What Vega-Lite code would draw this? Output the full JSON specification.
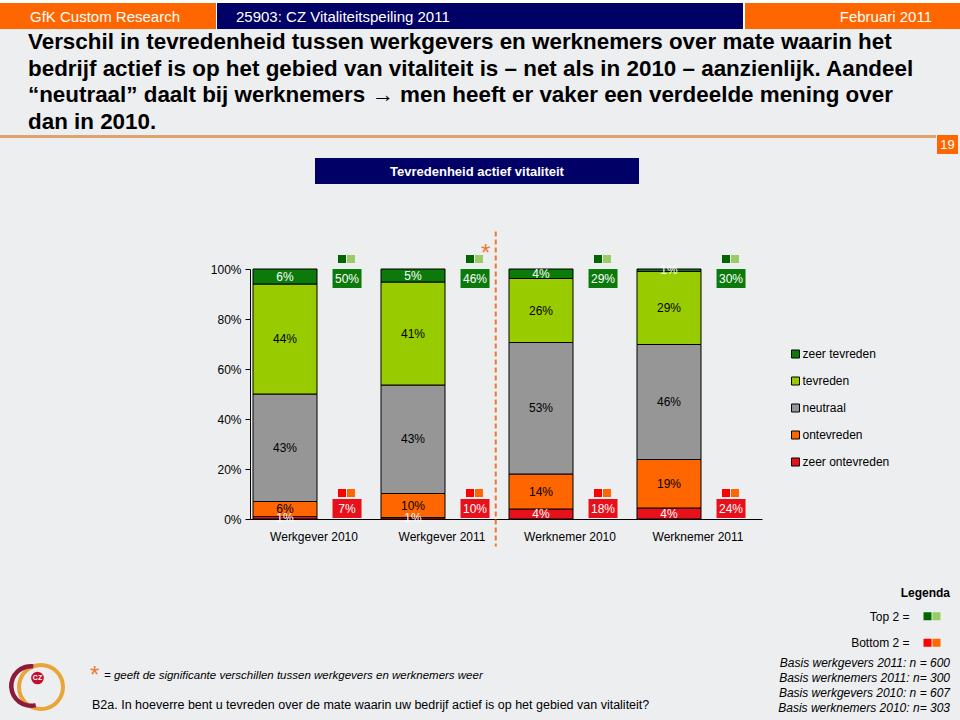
{
  "$schema": "https://vega.github.io/schema/vega-lite/v6.json",
  "background": "#ECEEF0",
  "padding": 0,
  "spacing": 0,
  "config": {
    "font": "Liberation Sans",
    "view": {"stroke": null},
    "concat": {"spacing": 0},
    "title": {"orient": "bottom", "baseline": "top", "anchor": "start", "frame": "group", "offset": 0, "fontWeight": "normal", "color": "black", "font": "Liberation Sans", "fontSize": 12}
  },
  "datasets": {
    "antwoorden": [
      {"groep": "Werkgever 2010", "categorie": "zeer ontevreden", "niveau": 1, "aandeel": 0.01},
      {"groep": "Werkgever 2010", "categorie": "ontevreden", "niveau": 2, "aandeel": 0.06},
      {"groep": "Werkgever 2010", "categorie": "neutraal", "niveau": 3, "aandeel": 0.43},
      {"groep": "Werkgever 2010", "categorie": "tevreden", "niveau": 4, "aandeel": 0.44},
      {"groep": "Werkgever 2010", "categorie": "zeer tevreden", "niveau": 5, "aandeel": 0.06},
      {"groep": "Werkgever 2011", "categorie": "zeer ontevreden", "niveau": 1, "aandeel": 0.006},
      {"groep": "Werkgever 2011", "categorie": "ontevreden", "niveau": 2, "aandeel": 0.096},
      {"groep": "Werkgever 2011", "categorie": "neutraal", "niveau": 3, "aandeel": 0.434},
      {"groep": "Werkgever 2011", "categorie": "tevreden", "niveau": 4, "aandeel": 0.412},
      {"groep": "Werkgever 2011", "categorie": "zeer tevreden", "niveau": 5, "aandeel": 0.052},
      {"groep": "Werknemer 2010", "categorie": "zeer ontevreden", "niveau": 1, "aandeel": 0.04},
      {"groep": "Werknemer 2010", "categorie": "ontevreden", "niveau": 2, "aandeel": 0.14},
      {"groep": "Werknemer 2010", "categorie": "neutraal", "niveau": 3, "aandeel": 0.526},
      {"groep": "Werknemer 2010", "categorie": "tevreden", "niveau": 4, "aandeel": 0.256},
      {"groep": "Werknemer 2010", "categorie": "zeer tevreden", "niveau": 5, "aandeel": 0.038},
      {"groep": "Werknemer 2011", "categorie": "zeer ontevreden", "niveau": 1, "aandeel": 0.044},
      {"groep": "Werknemer 2011", "categorie": "ontevreden", "niveau": 2, "aandeel": 0.194},
      {"groep": "Werknemer 2011", "categorie": "neutraal", "niveau": 3, "aandeel": 0.46},
      {"groep": "Werknemer 2011", "categorie": "tevreden", "niveau": 4, "aandeel": 0.292},
      {"groep": "Werknemer 2011", "categorie": "zeer tevreden", "niveau": 5, "aandeel": 0.01}
    ],
    "samenvatting": [
      {"groep": "Werkgever 2010", "top2": 0.50, "bottom2": 0.07},
      {"groep": "Werkgever 2011", "top2": 0.46, "bottom2": 0.10},
      {"groep": "Werknemer 2010", "top2": 0.29, "bottom2": 0.18},
      {"groep": "Werknemer 2011", "top2": 0.30, "bottom2": 0.24}
    ],
    "legenda": [
      {"groep": "Top 2 =", "categorie": "zeer tevreden", "tint": "donker"},
      {"groep": "Top 2 =", "categorie": "tevreden", "tint": "licht"},
      {"groep": "Bottom 2 =", "categorie": "zeer ontevreden", "tint": "donker"},
      {"groep": "Bottom 2 =", "categorie": "ontevreden", "tint": "licht"}
    ]
  },
  "vconcat": [
    {"width": 960, "height": 3, "view": {"fill": "white"}, "data": {"values": []}, "mark": "text"},
    {"bounds": "flush", "spacing": 0, "hconcat": [
      {"width": 216, "height": 26, "view": {"fill": "#FF6600"}, "data": {"values": []}, "mark": "text",
       "title": {"text": "GfK Custom Research", "dx": 30, "offset": -19, "color": "white", "fontSize": 15}},
      {"width": 1, "height": 26, "view": {"fill": "white"}, "data": {"values": []}, "mark": "text"},
      {"width": 526, "height": 26, "view": {"fill": "#000066"}, "data": {"values": []}, "mark": "text",
       "title": {"text": "25903: CZ Vitaliteitspeiling 2011", "dx": 19, "offset": -19, "color": "white", "fontSize": 15}},
      {"width": 2, "height": 26, "view": {"fill": "white"}, "data": {"values": []}, "mark": "text"},
      {"width": 215, "height": 26, "view": {"fill": "#FF6600"}, "data": {"values": []}, "mark": "text",
       "title": {"text": "Februari 2011", "anchor": "end", "dx": -28, "offset": -19, "color": "white", "fontSize": 15}}
    ]},
    {"width": 960, "height": 106, "data": {"values": []}, "mark": "text",
     "title": {"text": [
        "Verschil in tevredenheid tussen werkgevers en werknemers over mate waarin het",
        "bedrijf actief is op het gebied van vitaliteit is – net als in 2010 – aanzienlijk. Aandeel",
        "“neutraal” daalt bij werknemers → men heeft er vaker een verdeelde mening over",
        "dan in 2010."
      ], "dx": 28, "offset": -103.6, "fontSize": 22.4, "fontWeight": "bold", "lineHeight": 26.5, "color": "black"}},
    {"bounds": "flush", "spacing": 0, "hconcat": [
      {"width": 936, "height": 3, "view": {"fill": "#DFA46B"}, "data": {"values": []}, "mark": "text"},
      {"width": 1, "height": 19, "data": {"values": []}, "mark": "text"},
      {"width": 21, "height": 19, "view": {"fill": "#FF6600"}, "data": {"values": []}, "mark": "text",
       "title": {"text": "19", "anchor": "middle", "offset": -15.3, "color": "white", "fontSize": 13}},
      {"width": 2, "height": 19, "data": {"values": []}, "mark": "text"}
    ]},
    {"width": 960, "height": 4, "data": {"values": []}, "mark": "text"},
    {"bounds": "flush", "spacing": 0, "hconcat": [
      {"width": 315, "height": 26, "data": {"values": []}, "mark": "text"},
      {"width": 324, "height": 26, "view": {"fill": "#000066"}, "data": {"values": []}, "mark": "text",
       "title": {"text": "Tevredenheid actief vitaliteit", "anchor": "middle", "offset": -18.5, "color": "white", "fontSize": 13, "fontWeight": "bold"}},
      {"width": 321, "height": 26, "data": {"values": []}, "mark": "text"}
    ]},
    {"width": 960, "height": 45.5, "data": {"values": []}, "mark": "text"},
    {"bounds": "flush", "spacing": 0, "hconcat": [
      {"width": 250, "height": 250, "data": {"values": []}, "mark": "text"},
      {"width": 512, "height": 250,
       "layer": [
        {"data": {"name": "antwoorden"},
         "mark": {"type": "bar", "width": 64, "xOffset": -29, "stroke": "black", "strokeWidth": 1},
         "encoding": {
           "x": {"field": "groep", "type": "nominal",
                 "scale": {"domain": ["Werkgever 2010", "Werkgever 2011", "Werknemer 2010", "Werknemer 2011"], "paddingInner": 0, "paddingOuter": 0},
                 "axis": {"title": null, "labelAngle": 0, "bandPosition": 0.273, "ticks": false, "domainColor": "black", "labelPadding": 12, "labelFontSize": 12, "labelColor": "black"}},
           "y": {"field": "aandeel", "type": "quantitative", "stack": "zero",
                 "scale": {"domain": [0, 1], "nice": false},
                 "axis": {"title": null, "values": [0, 0.2, 0.4, 0.6, 0.8, 1], "format": ".0%", "grid": false, "domainColor": "black", "tickColor": "black", "tickSize": 5, "labelPadding": 4, "labelFontSize": 12, "labelColor": "black"}},
           "color": {"field": "categorie", "type": "nominal",
                     "scale": {"domain": ["zeer tevreden", "tevreden", "neutraal", "ontevreden", "zeer ontevreden"],
                               "range": ["#0B7A0B", "#99CC00", "#969696", "#FF6600", "#E8101A"]},
                     "legend": {"title": null, "orient": "none", "legendX": 789.5, "legendY": 348, "symbolType": "square", "symbolSize": 64, "symbolStrokeColor": "black", "symbolStrokeWidth": 1, "labelFontSize": 12, "labelColor": "black", "rowPadding": 15, "labelOffset": 1}},
           "order": {"field": "niveau", "type": "quantitative"}
         }},
        {"data": {"name": "antwoorden"},
         "mark": {"type": "text", "xOffset": -29, "fontSize": 12},
         "encoding": {
           "x": {"field": "groep", "type": "nominal"},
           "y": {"field": "aandeel", "type": "quantitative", "stack": "zero", "bandPosition": 0.5},
           "detail": {"field": "categorie"},
           "order": {"field": "niveau", "type": "quantitative"},
           "text": {"field": "aandeel", "type": "quantitative", "format": ".0%"},
           "color": {"condition": {"test": "datum.categorie === 'zeer tevreden' || datum.categorie === 'zeer ontevreden'", "value": "white"}, "value": "black"}
         }},
        {"data": {"name": "samenvatting"},
         "mark": {"type": "point", "shape": "M-1,-0.655H1V0.655H-1Z", "size": 841, "filled": true, "color": "#0B7A0B", "opacity": 1},
         "encoding": {"x": {"field": "groep", "type": "nominal", "bandPosition": 0.758}, "y": {"datum": 0.962}}},
        {"data": {"name": "samenvatting"},
         "mark": {"type": "text", "color": "white", "fontSize": 12},
         "encoding": {"x": {"field": "groep", "type": "nominal", "bandPosition": 0.758}, "y": {"datum": 0.962}, "text": {"field": "top2", "type": "quantitative", "format": ".0%"}}},
        {"data": {"name": "samenvatting"},
         "mark": {"type": "point", "shape": "M-1,-0.655H1V0.655H-1Z", "size": 841, "filled": true, "color": "#E8101A", "opacity": 1},
         "encoding": {"x": {"field": "groep", "type": "nominal", "bandPosition": 0.758}, "y": {"datum": 0.042}}},
        {"data": {"name": "samenvatting"},
         "mark": {"type": "text", "color": "white", "fontSize": 12},
         "encoding": {"x": {"field": "groep", "type": "nominal", "bandPosition": 0.758}, "y": {"datum": 0.042}, "text": {"field": "bottom2", "type": "quantitative", "format": ".0%"}}},
        {"data": {"name": "samenvatting"},
         "mark": {"type": "square", "size": 64, "color": "#006600", "opacity": 1, "xOffset": -5},
         "encoding": {"x": {"field": "groep", "type": "nominal", "bandPosition": 0.758}, "y": {"datum": 1.04}}},
        {"data": {"name": "samenvatting"},
         "mark": {"type": "square", "size": 64, "color": "#99CC66", "opacity": 1, "xOffset": 4},
         "encoding": {"x": {"field": "groep", "type": "nominal", "bandPosition": 0.758}, "y": {"datum": 1.04}}},
        {"data": {"name": "samenvatting"},
         "mark": {"type": "square", "size": 64, "color": "#FF0000", "opacity": 1, "xOffset": -5},
         "encoding": {"x": {"field": "groep", "type": "nominal", "bandPosition": 0.758}, "y": {"datum": 0.104}}},
        {"data": {"name": "samenvatting"},
         "mark": {"type": "square", "size": 64, "color": "#FF6600", "opacity": 1, "xOffset": 4},
         "encoding": {"x": {"field": "groep", "type": "nominal", "bandPosition": 0.758}, "y": {"datum": 0.104}}},
        {"data": {"values": [{"teken": "*", "betekenis": "significant verschil werkgevers / werknemers"}]},
         "mark": {"type": "rule", "color": "#F07830", "strokeWidth": 2, "strokeDash": [5, 3]},
         "encoding": {"x": {"datum": "Werkgever 2011", "bandPosition": 0.92}, "y": {"datum": 1.15}, "y2": {"datum": -0.11}}},
        {"data": {"values": [{"teken": "*", "betekenis": "significant verschil werkgevers / werknemers"}]},
         "mark": {"type": "text", "color": "#F07830", "fontSize": 24, "dx": -10, "baseline": "middle"},
         "encoding": {"x": {"datum": "Werkgever 2011", "bandPosition": 0.92}, "y": {"datum": 1.06}, "text": {"field": "teken"}}}
       ]},
      {"width": 198, "height": 250, "data": {"values": []}, "mark": "text"}
    ]},
    {"width": 960, "height": 37.5, "data": {"values": []}, "mark": "text"},
    {"width": 960, "height": 17, "data": {"values": []}, "mark": "text",
     "title": {"text": "Legenda", "anchor": "end", "dx": -10, "offset": -15.5, "fontSize": 12, "fontWeight": "bold"}},
    {"bounds": "flush", "spacing": 0, "hconcat": [
      {"width": 923, "height": 53, "data": {"values": []}, "mark": "text"},
      {"width": 18, "height": 53, "data": {"name": "legenda"},
       "mark": {"type": "square", "size": 64, "opacity": 1},
       "encoding": {
         "x": {"field": "tint", "type": "nominal", "sort": ["donker", "licht"], "axis": null, "scale": {"paddingInner": 0, "paddingOuter": 0}},
         "y": {"field": "groep", "type": "nominal", "sort": ["Top 2 =", "Bottom 2 ="], "scale": {"paddingInner": 0, "paddingOuter": 0},
               "axis": {"title": null, "domain": false, "ticks": false, "labelPadding": 14, "labelFontSize": 12, "labelColor": "black"}},
         "fill": {"field": "categorie", "type": "nominal",
                  "scale": {"domain": ["zeer tevreden", "tevreden", "zeer ontevreden", "ontevreden"], "range": ["#006600", "#99CC66", "#FF0000", "#FF6600"]},
                  "legend": null}
       }},
      {"width": 19, "height": 53, "data": {"values": []}, "mark": "text"}
    ]},
    {"bounds": "flush", "spacing": 0, "hconcat": [
      {"width": 70, "height": 62, "data": {"values": [{"logo": "CZ"}]},
       "layer": [
         {"mark": {"type": "arc", "radius": 24, "radius2": 20, "theta": 0, "theta2": 6.2832, "color": "#E9A53A", "xOffset": 6, "yOffset": -1}, "encoding": {}},
         {"mark": {"type": "arc", "radius": 22, "radius2": 17.5, "theta": 2.9, "theta2": 6.4, "color": "#8C1A3C", "xOffset": -4, "yOffset": -2}, "encoding": {}},
         {"mark": {"type": "circle", "size": 160, "color": "#C0112E", "opacity": 1, "xOffset": 2.5, "yOffset": -10}, "encoding": {}},
         {"mark": {"type": "text", "color": "white", "fontSize": 7, "fontWeight": "bold", "xOffset": 2.5, "yOffset": -10}, "encoding": {"text": {"field": "logo"}}}
       ],
       "title": {"text": "B2a. In hoeverre bent u tevreden over de mate waarin uw bedrijf actief is op het gebied van vitaliteit?", "dx": 92, "offset": -20, "fontSize": 12.5}},
      {"width": 34, "height": 1, "data": {"values": []}, "mark": "text",
       "title": {"text": "*", "dx": 20, "offset": 6, "fontSize": 24, "color": "#F07830"}},
      {"width": 656, "height": 1, "data": {"values": []}, "mark": "text",
       "title": {"text": "= geeft de significante verschillen tussen werkgevers en werknemers weer", "offset": 11.5, "fontSize": 11.5, "fontStyle": "italic"}},
      {"width": 200, "height": 1, "data": {"values": []}, "mark": "text",
       "title": {"text": ["Basis werkgevers 2011: n = 600", "Basis werknemers 2011: n= 300", "Basis werkgevers 2010: n = 607", "Basis werknemers 2010: n= 303"],
                 "anchor": "end", "dx": -10, "offset": -0.5, "fontSize": 12, "fontStyle": "italic", "lineHeight": 15}}
    ]},
    {"width": 960, "height": 4, "data": {"values": []}, "mark": "text"}
  ]
}
